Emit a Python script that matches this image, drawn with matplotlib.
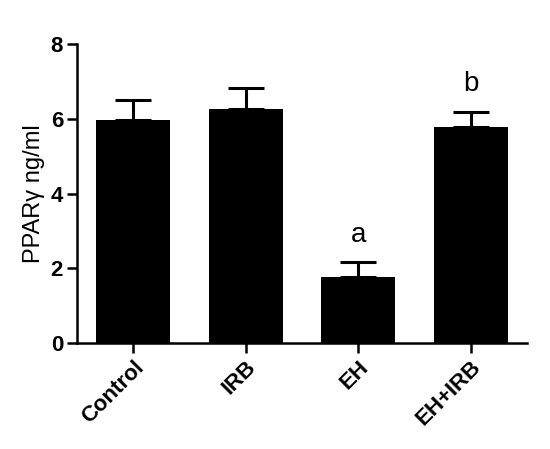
import numpy as np
import matplotlib.pyplot as plt

plt.rcParams['font.family'] = ['Liberation Sans', 'DejaVu Sans']

groups = ['Control', 'IRB', 'EH', 'EH+IRB']
means = [5.96, 6.25, 1.77, 5.78]
errors = [0.53, 0.56, 0.39, 0.40]
letters = ['', '', 'a', 'b']

fig = plt.figure(figsize=(5.5, 4.49), dpi=100)
ax = fig.add_axes([0.14, 0.236, 0.818, 0.666])

x = np.arange(len(groups))
ax.bar(x, means, width=0.66, color='black', zorder=2)
ax.errorbar(x, means, yerr=[np.zeros(len(means)), errors], fmt='none',
            ecolor='black', elinewidth=2.2, capsize=13, capthick=2.2, zorder=1)

for xi, m, e, lab in zip(x, means, errors, letters):
    if lab:
        ax.text(xi, m + e + 0.55, lab, ha='center', va='baseline', fontsize=20)

ax.set_xlim(-0.5, 3.5)
ax.set_ylim(0, 8)
ax.set_yticks([0, 2, 4, 6, 8])
ax.set_xticks(x)
ax.set_xticklabels(groups, rotation=45, ha='right', rotation_mode='anchor',
                   fontweight='bold', fontsize=16)
for t in ax.get_yticklabels():
    t.set_fontweight('bold')
    t.set_fontsize(16)
ax.set_ylabel('PPAR\u03b3 ng/ml', fontsize=17, labelpad=4)

for s in ['top', 'right']:
    ax.spines[s].set_visible(False)
for s in ['left', 'bottom']:
    ax.spines[s].set_linewidth(1.8)
ax.tick_params(width=1.8, length=7, direction='out', pad=3)

fig.savefig('out.png', dpi=100)
